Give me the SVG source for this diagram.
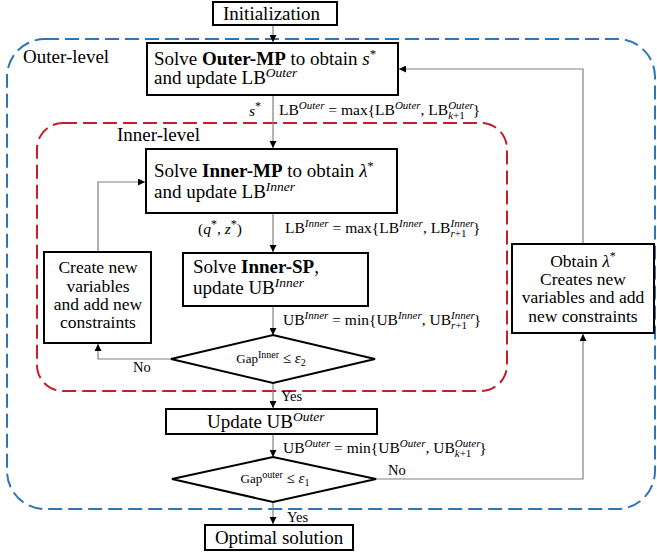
<svg xmlns="http://www.w3.org/2000/svg" width="657" height="554" viewBox="0 0 657 554">
<defs>
<marker id="ah" viewBox="0 0 10 10" refX="10" refY="5" markerWidth="7" markerHeight="7" markerUnits="userSpaceOnUse" orient="auto"><path d="M0,0 L10,5 L0,10 z" fill="#000"/></marker>
<style>
text{font-family:"Liberation Serif","Times New Roman",serif;fill:#000}
.box{fill:#fff;stroke:#000;stroke-width:2}
.conn{fill:none;stroke:#808080;stroke-width:1.2;marker-end:url(#ah)}
.t19{font-size:19px}
.t17{font-size:17.5px}
.bsup{font-size:13.5px;font-style:italic}
.eq{font-size:15.5px}
.sup{font-size:11px;font-style:italic}
.sub{font-size:11px}
.it{font-style:italic}
.lbl{font-size:14.5px}
.gap{font-size:13px}
</style>
</defs>
<rect width="657" height="554" fill="#fff"/>
<rect id="outer-level" x="7" y="39" width="648" height="470" rx="38" fill="none" stroke="#2E75B6" stroke-width="2" stroke-dasharray="14 6"/>
<rect id="inner-level" x="37" y="123" width="470" height="268" rx="26" fill="none" stroke="#C0202A" stroke-width="2" stroke-dasharray="14 6"/>
<text class="t19" x="23" y="63">Outer-level</text>
<text class="t19" x="117" y="141">Inner-level</text>

<g id="connectors">
<path class="conn" d="M273,26 V42"/>
<path class="conn" d="M273,96 V148"/>
<path class="conn" d="M273,214 V252"/>
<path class="conn" d="M273,307 V335"/>
<path class="conn" d="M273,383 V408"/>
<path class="conn" d="M273,435 V457"/>
<path class="conn" d="M273,502 V524"/>
<path class="conn" d="M171,359 H98 V344"/>
<path class="conn" d="M98,252 V182 H145"/>
<path class="conn" d="M375,479 H583 V334"/>
<path class="conn" d="M583,244 V69 H399"/>
</g>

<g id="connector-labels">
<text class="eq" x="249" y="116"><tspan class="it">s</tspan><tspan font-size="12" dy="-6">*</tspan></text>
<text class="eq" x="279" y="115">LB<tspan class="sup" dy="-6">Outer</tspan><tspan dy="6"> = max{LB</tspan><tspan class="sup" dy="-6">Outer</tspan><tspan dy="6">, LB</tspan><tspan class="sup" dy="-6">Outer</tspan><tspan class="sub" dx="-25.7" dy="10"><tspan class="it">k</tspan>+1</tspan><tspan dx="7.9" dy="-4">}</tspan></text>
<text class="eq" x="198" y="234" font-size="16">(<tspan class="it">q</tspan><tspan font-size="12" dy="-6">*</tspan><tspan dy="6">, </tspan><tspan class="it">z</tspan><tspan font-size="12" dy="-6">*</tspan><tspan dy="6">)</tspan></text>
<text class="eq" x="285" y="233">LB<tspan class="sup" dy="-6">Inner</tspan><tspan dy="6"> = max{LB</tspan><tspan class="sup" dy="-6">Inner</tspan><tspan dy="6">, LB</tspan><tspan class="sup" dy="-6">Inner</tspan><tspan class="sub" dx="-23.8" dy="10"><tspan class="it">r</tspan>+1</tspan><tspan dx="6.6" dy="-4">}</tspan></text>
<text class="eq" x="283" y="325">UB<tspan class="sup" dy="-6">Inner</tspan><tspan dy="6"> = min{UB</tspan><tspan class="sup" dy="-6">Inner</tspan><tspan dy="6">, UB</tspan><tspan class="sup" dy="-6">Inner</tspan><tspan class="sub" dx="-23.8" dy="10"><tspan class="it">r</tspan>+1</tspan><tspan dx="6.6" dy="-4">}</tspan></text>
<text class="eq" x="283" y="453">UB<tspan class="sup" dy="-6">Outer</tspan><tspan dy="6"> = min{UB</tspan><tspan class="sup" dy="-6">Outer</tspan><tspan dy="6">, UB</tspan><tspan class="sup" dy="-6">Outer</tspan><tspan class="sub" dx="-25.7" dy="10"><tspan class="it">k</tspan>+1</tspan><tspan dx="7.9" dy="-4">}</tspan></text>
<text class="lbl" x="133" y="372">No</text>
<text class="lbl" x="281" y="401">Yes</text>
<text class="lbl" x="388" y="475">No</text>
<text class="lbl" x="287" y="522">Yes</text>
</g>

<g id="initialization">
<rect class="box" x="213" y="2" width="124" height="23"/>
<text class="t19" x="223" y="20">Initialization</text>
</g>

<g id="outer-mp">
<rect class="box" x="147" y="43" width="251" height="52"/>
<text class="t19" x="154" y="65">Solve <tspan font-weight="bold">Outer-MP</tspan> to obtain <tspan class="it">s</tspan><tspan font-size="13" dy="-7">*</tspan></text>
<text class="t19" x="154" y="84">and update LB<tspan class="bsup" dy="-7">Outer</tspan></text>
</g>

<g id="inner-mp">
<rect class="box" x="146" y="149" width="251" height="64"/>
<text class="t19" x="154" y="177">Solve <tspan font-weight="bold">Inner-MP</tspan> to obtain <tspan class="it">λ</tspan><tspan font-size="13" dy="-7">*</tspan></text>
<text class="t19" x="154" y="198">and update LB<tspan class="bsup" dy="-7">Inner</tspan></text>
</g>

<g id="inner-sp">
<rect class="box" x="183" y="253" width="185" height="53"/>
<text class="t19" x="193" y="273">Solve <tspan font-weight="bold">Inner-SP</tspan>,</text>
<text class="t19" x="193" y="294">update UB<tspan class="bsup" dy="-7">Inner</tspan></text>
</g>

<g id="create-new">
<rect class="box" x="44" y="252" width="107" height="91"/>
<text class="t17" x="98" text-anchor="middle"><tspan x="98" y="273">Create new</tspan><tspan x="98" y="292">variables</tspan><tspan x="98" y="310">and add new</tspan><tspan x="98" y="328">constraints</tspan></text>
</g>

<g id="gap-inner">
<polygon class="box" points="171,359 273,335 375,359 273,383"/>
<text class="gap" x="271" y="363" text-anchor="middle">Gap<tspan font-size="10" dy="-5">Inner</tspan><tspan dy="5" font-size="15"> ≤ </tspan><tspan class="it" font-size="15">ε</tspan><tspan font-size="10" dy="3">2</tspan></text>
</g>

<g id="obtain">
<rect class="box" x="512" y="244" width="142" height="89"/>
<text class="t17" x="583" text-anchor="middle" font-size="17"><tspan x="583" y="267">Obtain <tspan class="it">λ</tspan><tspan font-size="12" dy="-7">*</tspan></tspan><tspan x="583" y="285">Creates new</tspan><tspan x="583" y="303">variables and add</tspan><tspan x="583" y="322">new constraints</tspan></text>
</g>

<g id="update-ub">
<rect class="box" x="166" y="409" width="211" height="25"/>
<text class="t19" x="207" y="428">Update UB<tspan class="bsup" dy="-7">Outer</tspan></text>
</g>

<g id="gap-outer">
<polygon class="box" points="172,479 273,457 376,479 273,502"/>
<text class="gap" x="275" y="483" text-anchor="middle">Gap<tspan font-size="10" dy="-5">outer</tspan><tspan dy="5" font-size="15"> ≤ </tspan><tspan class="it" font-size="15">ε</tspan><tspan font-size="10" dy="3">1</tspan></text>
</g>

<g id="optimal">
<rect class="box" x="205" y="525" width="148" height="25"/>
<text class="t19" x="279" y="544" text-anchor="middle">Optimal solution</text>
</g>
</svg>
